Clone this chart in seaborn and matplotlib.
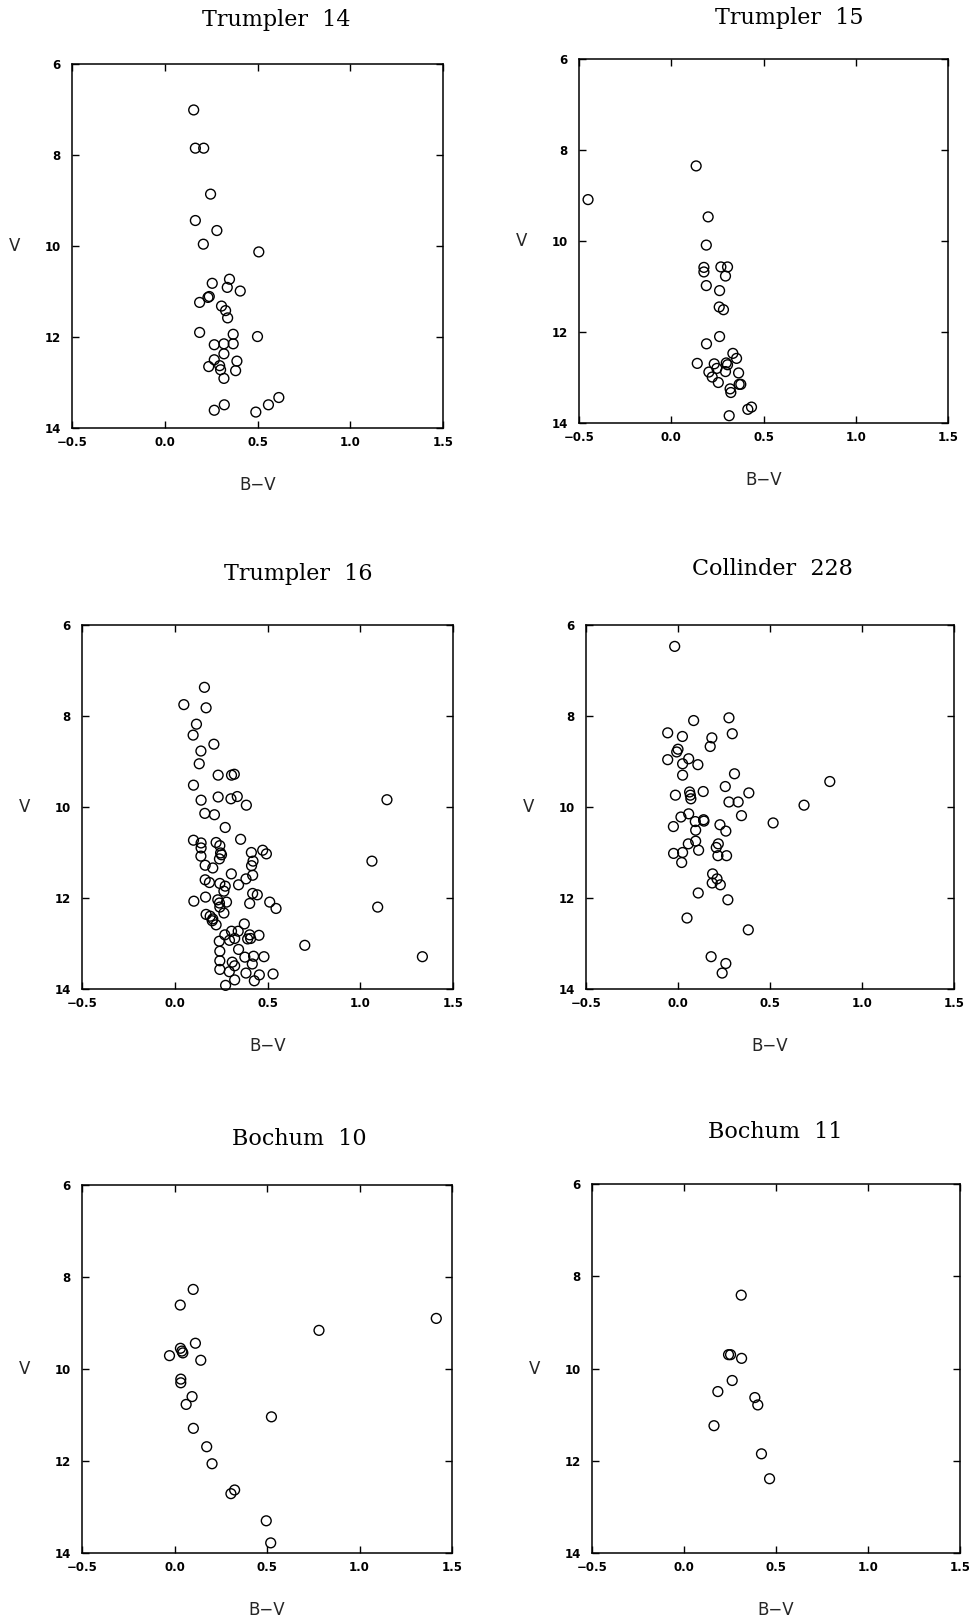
import matplotlib
matplotlib.use("Agg")
import matplotlib.pyplot as plt
import seaborn as sns

# colour index B-V and magnitude V
tr14_bv = [0.156, 0.165, 0.21, 0.247, 0.165, 0.281, 0.208, 0.507, 0.349, 0.256,
           0.337, 0.407, 0.233, 0.240, 0.188, 0.306, 0.328, 0.339, 0.188, 0.369,
           0.500, 0.267, 0.319, 0.369, 0.319, 0.267, 0.389, 0.237, 0.296, 0.301,
           0.382, 0.319, 0.321, 0.267, 0.491, 0.559, 0.615]
tr14_v = [7.01, 7.85, 7.85, 8.86, 9.44, 9.66, 9.96, 10.13, 10.73, 10.82,
          10.91, 10.99, 11.13, 11.11, 11.24, 11.32, 11.42, 11.58, 11.90, 11.94,
          11.99, 12.17, 12.15, 12.15, 12.37, 12.50, 12.53, 12.65, 12.63, 12.72,
          12.74, 12.91, 13.49, 13.61, 13.65, 13.49, 13.33]

tr15_bv = [-0.451, 0.135, 0.20, 0.19, 0.177, 0.177, 0.269, 0.305, 0.294, 0.19,
           0.262, 0.26, 0.283, 0.262, 0.191, 0.141, 0.233, 0.247, 0.204, 0.222,
           0.255, 0.298, 0.305, 0.294, 0.334, 0.354, 0.365, 0.368, 0.377, 0.319,
           0.323, 0.415, 0.435, 0.314]
tr15_v = [9.09, 8.35, 9.47, 10.09, 10.58, 10.68, 10.57, 10.57, 10.77, 10.98,
          11.09, 11.45, 11.51, 12.10, 12.26, 12.69, 12.70, 12.80, 12.88, 12.99,
          13.11, 12.68, 12.72, 12.87, 12.47, 12.58, 12.90, 13.15, 13.15, 13.25,
          13.33, 13.70, 13.65, 13.84]

tr16_bv = [0.16, 0.049, 0.169, 0.117, 0.099, 0.211, 0.141, 0.132, 0.234, 0.306,
           0.321, 0.101, 0.142, 0.234, 0.303, 0.337, 0.386, 0.162, 0.214, 0.272,
           0.101, 0.142, 0.142, 0.141, 0.223, 0.243, 0.247, 0.252, 0.241, 0.355,
           0.413, 0.474, 0.494, 0.422, 0.414, 0.42, 0.164, 0.205, 0.305, 0.164,
           0.187, 0.243, 0.272, 0.265, 0.344, 0.384, 0.42, 0.445, 0.103, 0.166,
           0.232, 0.241, 0.279, 0.404, 0.512, 0.546, 0.243, 0.265, 0.169, 0.191,
           0.205, 0.223, 0.202, 0.375, 0.27, 0.306, 0.342, 0.404, 0.454, 0.24,
           0.295, 0.323, 0.393, 0.409, 0.344, 0.243, 0.378, 0.425, 0.481, 0.243,
           0.31, 0.701, 1.144, 1.063, 1.094, 1.335, 0.323, 0.418, 0.243, 0.294,
           0.384, 0.456, 0.53, 0.323, 0.429, 0.274]
tr16_v = [7.37, 7.75, 7.82, 8.18, 8.42, 8.62, 8.77, 9.05, 9.30, 9.30,
          9.28, 9.52, 9.85, 9.78, 9.82, 9.77, 9.96, 10.14, 10.17, 10.45,
          10.73, 10.79, 10.90, 11.08, 10.78, 10.85, 11.01, 11.05, 11.14, 10.71,
          11.00, 10.95, 11.03, 11.19, 11.29, 11.50, 11.28, 11.34, 11.47, 11.60,
          11.66, 11.68, 11.74, 11.85, 11.71, 11.58, 11.90, 11.93, 12.07, 11.98,
          12.04, 12.11, 12.09, 12.12, 12.09, 12.23, 12.20, 12.33, 12.36, 12.40,
          12.46, 12.59, 12.50, 12.57, 12.81, 12.73, 12.73, 12.81, 12.82, 12.95,
          12.93, 12.89, 12.90, 12.89, 13.13, 13.17, 13.30, 13.28, 13.29, 13.38,
          13.41, 13.04, 9.84, 11.19, 12.20, 13.29, 13.49, 13.45, 13.57, 13.62,
          13.65, 13.69, 13.67, 13.80, 13.82, 13.92]

cr228_bv = [-0.018, 0.085, 0.277, -0.056, 0.024, 0.184, 0.295, 0.175, 0.0, -0.007,
            -0.056, 0.058, 0.025, 0.108, 0.025, 0.307, 0.257, -0.014, 0.063, 0.067,
            0.07, 0.137, 0.277, 0.327, 0.385, 0.825, 0.685, 0.345, 0.058, 0.016,
            0.094, 0.139, 0.141, -0.025, 0.096, 0.228, 0.26, 0.517, 0.056, 0.096,
            -0.024, 0.025, 0.112, 0.02, 0.219, 0.208, 0.217, 0.264, 0.188, 0.212,
            0.186, 0.23, 0.11, 0.271, 0.049, 0.382, 0.18, 0.26, 0.24]
cr228_v = [6.47, 8.10, 8.04, 8.37, 8.45, 8.48, 8.39, 8.67, 8.73, 8.79,
           8.96, 8.94, 9.05, 9.07, 9.30, 9.27, 9.55, 9.74, 9.67, 9.74,
           9.82, 9.66, 9.89, 9.89, 9.69, 9.44, 9.96, 10.19, 10.15, 10.22,
           10.32, 10.28, 10.31, 10.43, 10.51, 10.39, 10.53, 10.35, 10.81, 10.75,
           11.02, 11.00, 10.95, 11.22, 10.81, 10.89, 11.07, 11.07, 11.47, 11.58,
           11.67, 11.71, 11.89, 12.04, 12.44, 12.70, 13.29, 13.44, 13.65]

bo10_bv = [0.101, 0.031, 0.113, 0.032, 0.040, 0.045, -0.027, 0.142, 0.034, 0.034,
           0.095, 0.063, 0.524, 0.102, 0.174, 0.203, 0.325, 0.305, 0.781, 1.415,
           0.496, 0.520]
bo10_v = [8.27, 8.61, 9.44, 9.55, 9.61, 9.65, 9.71, 9.81, 10.22, 10.30,
          10.60, 10.77, 11.04, 11.29, 11.69, 12.06, 12.63, 12.71, 9.16, 8.90,
          13.30, 13.78]

bo11_bv = [0.311, 0.242, 0.253, 0.313, 0.262, 0.184, 0.385, 0.401, 0.163, 0.421, 0.465]
bo11_v = [8.41, 9.70, 9.70, 9.78, 10.26, 10.50, 10.63, 10.79, 11.24, 11.85, 12.39]

titles = ["Trumpler  14", "Trumpler  15", "Trumpler  16",
          "Collinder  228", "Bochum  10", "Bochum  11"]
series = [(tr14_bv, tr14_v), (tr15_bv, tr15_v), (tr16_bv, tr16_v),
          (cr228_bv, cr228_v), (bo10_bv, bo10_v), (bo11_bv, bo11_v)]
x_ticks = [-0.5, 0.0, 0.5, 1.0, 1.5]
x_tick_labels = ["\u22120.5", "0.0", "0.5", "1.0", "1.5"]
y_ticks = [6, 8, 10, 12, 14]

sns.set_style("ticks", {"xtick.direction": "in", "ytick.direction": "in"})
plt.rcParams["font.family"] = ["DejaVu Sans"]

W, H = 969, 1623
fig = plt.figure(figsize=(W / 100, H / 100), dpi=100)

# axes boxes in pixels (left, top, right, bottom) and title centres
boxes = [(72, 64, 443, 428), (579, 59, 948, 423), (82, 625, 453, 989),
         (586, 625, 954, 989), (82, 1185, 452, 1553), (592, 1184, 960, 1553)]
title_xy = [(276, 20), (789, 18), (298, 574), (772, 569), (299, 1139), (775, 1132)]

for (bv, v), title, (l, t, r, b), (tx, ty) in zip(series, titles, boxes, title_xy):
    ax = fig.add_axes([l / W, 1 - b / H, (r - l) / W, (b - t) / H])
    sns.scatterplot(x=bv, y=v, ax=ax, s=50, facecolor="none", edgecolor="black",
                    linewidth=1.0, clip_on=False)
    ax.set_xlim(-0.5, 1.5)
    ax.set_ylim(14, 6)
    ax.set_xticks(x_ticks)
    ax.set_xticklabels(x_tick_labels)
    ax.set_yticks(y_ticks)
    ax.tick_params(direction="in", top=True, right=True, length=5, width=1,
                   labelsize=8.5, colors="black")
    ax.tick_params(axis="x", pad=6)
    ax.tick_params(axis="y", pad=8)
    for lab in ax.get_xticklabels() + ax.get_yticklabels():
        lab.set_fontweight("bold")
    for sp in ax.spines.values():
        sp.set_linewidth(1.1)
        sp.set_color("black")
    ax.set_xlabel("B\u2212V", fontsize=12, va="center")
    ax.xaxis.set_label_coords(0.5, -57 / (b - t))
    ax.set_ylabel("V", fontsize=12, rotation=0, ha="center", va="center")
    ax.yaxis.set_label_coords(-57 / (r - l), 0.5)
    fig.text(tx / W, 1 - ty / H, title, ha="center", va="center",
             family="DejaVu Serif", fontsize=16, color="black")

fig.savefig("out.png", dpi=100)
